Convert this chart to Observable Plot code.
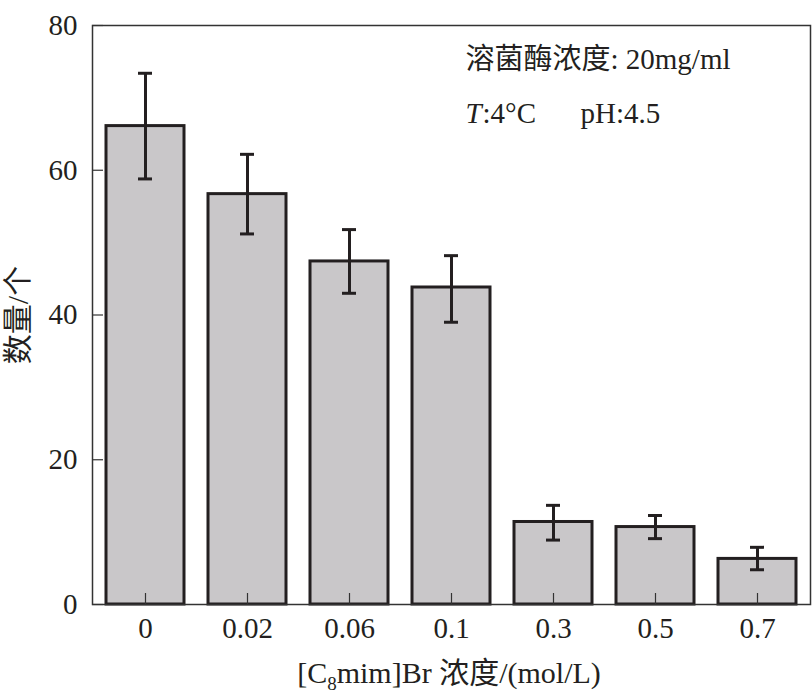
<!DOCTYPE html>
<html><head><meta charset="utf-8">
<script src="https://cdn.jsdelivr.net/npm/d3@7"></script>
<script src="https://cdn.jsdelivr.net/npm/@observablehq/plot@0.6"></script>
<style>
body{margin:0;background:#fff}
svg{font-family:"Liberation Serif","Noto Sans CJK SC",serif}
</style>
</head><body><div id="chart"></div>
<script>
const categories = ["0","0.02","0.06","0.1","0.3","0.5","0.7"];
const counts  = [66.1,56.7,47.4,43.8,11.4,10.7,6.3];
const errLow  = [58.8,51.2,43.0,39.0,8.9,9.1,4.8];
const errHigh = [73.4,62.2,51.8,48.2,13.7,12.3,7.9];
const yTicks = [0,20,40,60,80];
const yLabel = "数量/个";
const note1 = "溶菌酶浓度: 20mg/ml";
const noteT = "T";
const noteTemp = ":4°C";
const notePH = "pH:4.5";

const data = categories.map((c,i)=>({c, v:counts[i], lo:errLow[i], hi:errHigh[i]}));
const ink = "#231f20";

const plot = Plot.plot({
  width: 812, height: 699,
  marginLeft: 92, marginRight: 2, marginTop: 25, marginBottom: 95,
  style: {fontSize: "29px", fontFamily: '"Liberation Serif","Noto Sans CJK SC",serif', color: ink, background: "#fff"},
  x: {type: "band", domain: categories, paddingInner: 0.24, paddingOuter: 0.12},
  y: {domain: [0, 80]},
  marks: [
    Plot.barY(data, {x: "c", y: "v", fill: "#c9c7c9", stroke: ink, strokeWidth: 3}),
    Plot.ruleX(data, {x: "c", y1: "lo", y2: "hi", stroke: ink, strokeWidth: 3}),
    Plot.tickY(data, {x: "c", y: "hi", insetLeft: 32, insetRight: 32, stroke: ink, strokeWidth: 3}),
    Plot.tickY(data, {x: "c", y: "lo", insetLeft: 32, insetRight: 32, stroke: ink, strokeWidth: 3}),
    Plot.frame({stroke: "#333", strokeWidth: 1.5}),
    Plot.axisX({tickSize: -11, tickFormat: () => "", label: null, stroke: "#333", strokeWidth: 1.2}),
    Plot.axisX({tickSize: 0, tickPadding: 13, label: null, fontSize: 29}),
    Plot.axisY({ticks: yTicks, tickSize: -11, tickFormat: () => "", label: null, stroke: "#333", strokeWidth: 1.2}),
    Plot.axisY({ticks: yTicks, tickSize: 0, tickPadding: 15, fontSize: 29, label: yLabel, labelAnchor: "center", labelArrow: "none", labelOffset: 86}),
    Plot.text([note1], {frameAnchor: "top-left", dx: 373, dy: 23, textAnchor: "start", fontSize: 29, fill: ink}),
    Plot.text([noteT], {frameAnchor: "top-left", dx: 373, dy: 77, textAnchor: "start", fontSize: 29, fontStyle: "italic", fill: ink}),
    Plot.text([noteTemp], {frameAnchor: "top-left", dx: 390, dy: 77, textAnchor: "start", fontSize: 29, fill: ink}),
    Plot.text([notePH], {frameAnchor: "top-left", dx: 488, dy: 77, textAnchor: "start", fontSize: 29, fill: ink})
  ]
});

// x-axis title with subscript
const svg = d3.select(plot);
svg.select('[aria-label="y-axis label"] text').attr("font-size", 30);
const t = svg.append("text")
  .attr("x", 449).attr("y", 683)
  .attr("text-anchor", "middle")
  .attr("font-size", 30)
  .attr("fill", ink);
t.append("tspan").text("[C");
t.append("tspan").attr("font-size", 19).attr("dy", 7).text("8");
t.append("tspan").attr("dy", -7).text("mim]Br 浓度/(mol/L)");

document.getElementById("chart").appendChild(plot);
</script>
</body></html>
